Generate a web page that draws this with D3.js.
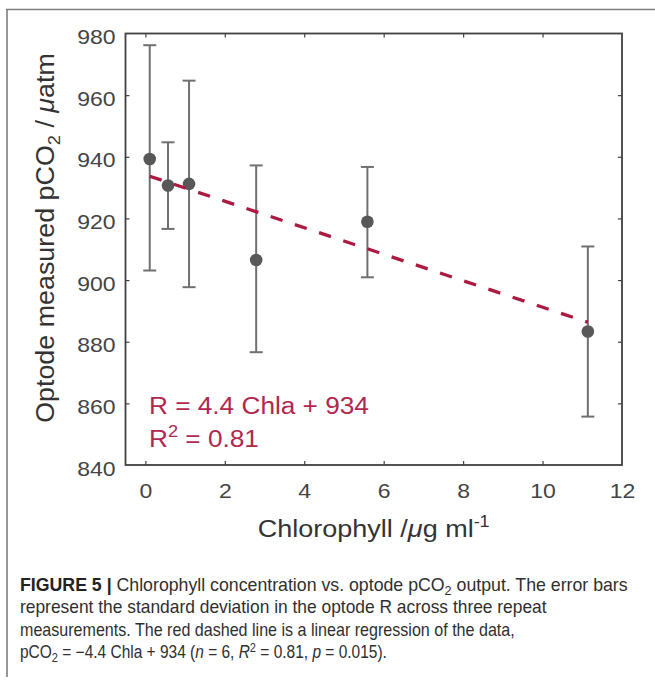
<!DOCTYPE html>
<html>
<head>
<meta charset="utf-8">
<script src="https://cdn.jsdelivr.net/npm/d3@7"></script>
<style>
  html, body { margin: 0; padding: 0; background: #fff; }
  svg { display: block; }
  text { font-family: "Liberation Sans", Arial, Helvetica, sans-serif; }
</style>
</head>
<body>
<svg id="chart" width="655" height="681"></svg>
<script>
// ---- data ----
const chl    = [0.11, 0.57, 1.10, 2.79, 5.59, 11.14];      // Chlorophyll / µg ml-1
const pco2   = [939.3, 930.7, 931.2, 906.5, 918.9, 883.3]; // optode pCO2 / µatm
const errHi  = [976.2, 944.7, 964.7, 937.2, 936.7, 910.9];  // mean + SD
const errLo  = [903.1, 916.6, 897.7, 876.6, 900.9, 855.7];  // mean - SD
const fitX   = [0.11, 11.14];                               // regression line ends
const fitY   = [933.7, 886.3];
const xTicks = [0, 2, 4, 6, 8, 10, 12];
const yTicks = [840, 860, 880, 900, 920, 940, 960, 980];
const annotation1 = "R = 4.4 Chla + 934";
const annotation2 = ["R", "2", " = 0.81"];

const svg = d3.select("#chart");
const L = 125.5, R = 622, T = 33.5, B = 465;
const x = d3.scaleLinear().domain([-0.5, 12]).range([L, R]);
const y = d3.scaleLinear().domain([840, 980]).range([B, T]);

const red = "#ab1a42", redText = "#b0284f";

function fitWidth(node, target, ax, ay) {
  const w = node.getBBox().width;
  const s = target / w;
  d3.select(node).attr("transform",
    `translate(${ax},${ay}) scale(${s},1) translate(${-ax},${-ay})`);
}

// outer frame (top and left edges)
svg.append("line").attr("x1", 6).attr("x2", 655).attr("y1", 9.5).attr("y2", 9.5)
  .attr("stroke", "#7d7d7d").attr("stroke-width", 1.6);
svg.append("line").attr("x1", 7).attr("x2", 7).attr("y1", 9).attr("y2", 677)
  .attr("stroke", "#7d7d7d").attr("stroke-width", 1.6);

// axes: ticks inside, box style
const tickLen = 4;
const axColor = "#404040";
const gB = svg.append("g").attr("transform", `translate(0,${B})`)
  .call(d3.axisBottom(x).tickValues(xTicks).tickSizeInner(-tickLen).tickSizeOuter(0).tickPadding(19));
const gT = svg.append("g").attr("transform", `translate(0,${T})`)
  .call(d3.axisTop(x).tickValues(xTicks).tickSizeInner(-tickLen).tickSizeOuter(0).tickFormat(""));
const gL = svg.append("g").attr("transform", `translate(${L},0)`)
  .call(d3.axisLeft(y).tickValues(yTicks).tickSizeInner(-tickLen).tickSizeOuter(0).tickPadding(10));
const gR = svg.append("g").attr("transform", `translate(${R},0)`)
  .call(d3.axisRight(y).tickValues(yTicks).tickSizeInner(-tickLen).tickSizeOuter(0).tickFormat(""));
[gB, gT, gL, gR].forEach(g => {
  g.select(".domain").remove();
  g.selectAll(".tick line").attr("stroke", axColor).attr("stroke-width", 1.2);
  g.selectAll(".tick text").attr("fill", "#444").attr("font-size", 20)
    .attr("font-family", "'Liberation Sans', Arial, sans-serif");
});
gB.selectAll(".tick line").filter(d => d === 12).remove();
gT.selectAll(".tick line").filter(d => d === 12).remove();
gL.selectAll(".tick line").filter(d => d === 840 || d === 980).remove();
gR.selectAll(".tick line").filter(d => d === 840 || d === 980).remove();
gL.selectAll(".tick text").attr("dy", "0.5em");
// slightly wide tick digits as in the reference
[gB, gL].forEach(g => g.selectAll(".tick text").each(function() {
  const ax = +d3.select(this).attr("x") || 0;
  d3.select(this).attr("transform", `translate(${ax},0) scale(1.15,1) translate(${-ax},0)`);
}));

svg.append("rect").attr("x", L).attr("y", T).attr("width", R - L).attr("height", B - T)
  .attr("fill", "none").attr("stroke", axColor).attr("stroke-width", 1.8);

// error bars
const eb = svg.append("g").attr("stroke", "#707070").attr("stroke-width", 2).attr("fill", "none");
chl.forEach((c, i) => {
  const cx = x(c);
  eb.append("line").attr("x1", cx).attr("x2", cx).attr("y1", y(errHi[i])).attr("y2", y(errLo[i]));
  eb.append("line").attr("x1", cx - 6.5).attr("x2", cx + 6.5).attr("y1", y(errHi[i])).attr("y2", y(errHi[i]));
  eb.append("line").attr("x1", cx - 6.5).attr("x2", cx + 6.5).attr("y1", y(errLo[i])).attr("y2", y(errLo[i]));
});

// points
svg.append("g").selectAll("circle").data(chl).join("circle")
  .attr("cx", d => x(d)).attr("cy", (d, i) => y(pco2[i])).attr("r", 6.3)
  .attr("fill", "#585858");

// regression line
svg.append("line")
  .attr("x1", x(fitX[0])).attr("y1", y(fitY[0]))
  .attr("x2", x(fitX[1])).attr("y2", y(fitY[1]))
  .attr("stroke", red).attr("stroke-width", 3.3).attr("stroke-dasharray", "12.5,13");

// annotation
const a1 = svg.append("text").attr("x", 149).attr("y", 414.3).attr("font-size", 24.5)
  .attr("fill", redText).text(annotation1);
fitWidth(a1.node(), 220, 149, 414.3);
const a2 = svg.append("text").attr("x", 149).attr("y", 446.7).attr("font-size", 24.5).attr("fill", redText);
a2.append("tspan").text(annotation2[0]);
a2.append("tspan").attr("dy", -10).attr("font-size", 17).text(annotation2[1]);
a2.append("tspan").attr("dy", 10).text(annotation2[2]);
fitWidth(a2.node(), 110, 149, 446.7);

// x axis label
const xl = svg.append("text").attr("x", (L + R) / 2).attr("y", 537.5).attr("text-anchor", "middle")
  .attr("font-size", 24).attr("fill", "#333");
xl.append("tspan").text("Chlorophyll /");
xl.append("tspan").attr("font-style", "italic").text("μ");
xl.append("tspan").text("g ml");
xl.append("tspan").attr("dy", -10).attr("font-size", 16).text("-1");
fitWidth(xl.node(), 232, (L + R) / 2, 537.5);

// y axis label
const yg = svg.append("g").attr("transform", `translate(54,238) rotate(-90)`);
const yl = yg.append("text").attr("x", 0).attr("y", 0).attr("text-anchor", "middle")
  .attr("font-size", 25).attr("fill", "#333");
yl.append("tspan").text("Optode measured pCO");
yl.append("tspan").attr("dy", 6).attr("font-size", 17).text("2");
yl.append("tspan").attr("dy", -6).text(" / ");
yl.append("tspan").attr("font-style", "italic").text("μ");
yl.append("tspan").text("atm");
fitWidth(yl.node(), 370, 0, 0);

// caption
const capColor = "#2f2f2f";
const capSize = 17.5;
const capX = 20;
function capLine(yy) {
  return svg.append("text").attr("x", capX).attr("y", yy).attr("font-size", capSize).attr("fill", capColor);
}
const c1 = capLine(591);
c1.append("tspan").attr("font-weight", "bold").attr("fill", "#222").text("FIGURE 5 |");
c1.append("tspan").text(" Chlorophyll concentration vs. optode pCO");
c1.append("tspan").attr("dy", 4).attr("font-size", 12.5).text("2");
c1.append("tspan").attr("dy", -4).text(" output. The error bars");
fitWidth(c1.node(), 608, capX, 591);

const c2 = capLine(613.5);
c2.text("represent the standard deviation in the optode R across three repeat");
fitWidth(c2.node(), 527, capX, 613.5);

const c3 = capLine(636);
c3.text("measurements. The red dashed line is a linear regression of the data,");
fitWidth(c3.node(), 495, capX, 636);

const c4 = capLine(658.5);
c4.append("tspan").text("pCO");
c4.append("tspan").attr("dy", 4).attr("font-size", 12.5).text("2");
c4.append("tspan").attr("dy", -4).text(" = −4.4 Chla + 934 (");
c4.append("tspan").attr("font-style", "italic").text("n");
c4.append("tspan").text(" = 6, ");
c4.append("tspan").attr("font-style", "italic").text("R");
c4.append("tspan").attr("dy", -6).attr("font-size", 12.5).text("2");
c4.append("tspan").attr("dy", 6).text(" = 0.81, ");
c4.append("tspan").attr("font-style", "italic").text("p");
c4.append("tspan").text(" = 0.015).");
fitWidth(c4.node(), 367, capX, 658.5);
</script>
</body>
</html>
